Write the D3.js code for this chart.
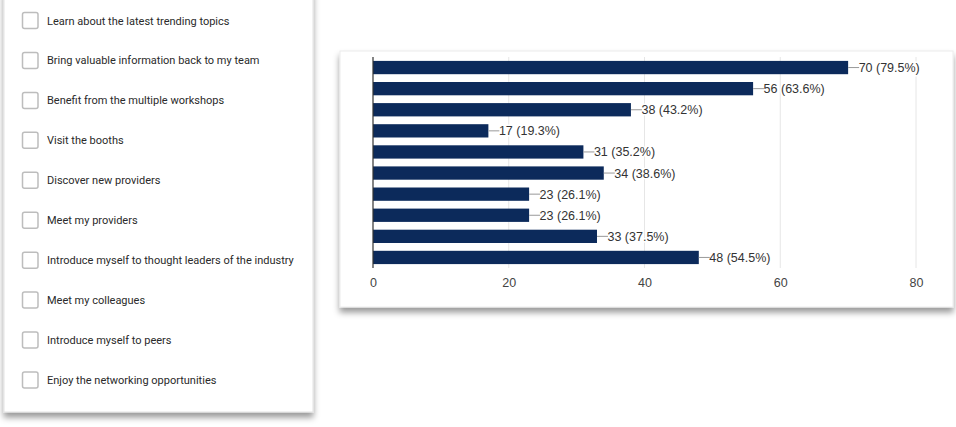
<!DOCTYPE html>
<html>
<head>
<meta charset="utf-8">
<script src="https://cdn.jsdelivr.net/npm/d3@7"></script>
<style>
  body { margin: 0; background: #fff; }
  svg { display: block; }
</style>
</head>
<body>
<svg id="chart" width="956" height="427"></svg>
<script>
// answer options, in the order of the form
var options = [
  "Learn about the latest trending topics",
  "Bring valuable information back to my team",
  "Benefit from the multiple workshops",
  "Visit the booths",
  "Discover new providers",
  "Meet my providers",
  "Introduce myself to thought leaders of the industry",
  "Meet my colleagues",
  "Introduce myself to peers",
  "Enjoy the networking opportunities"
];
// responses per option
var counts = [70, 56, 38, 17, 31, 34, 23, 23, 33, 48];
var percents = ["79.5%", "63.6%", "43.2%", "19.3%", "35.2%", "38.6%", "26.1%", "26.1%", "37.5%", "54.5%"];
var xTicks = [0, 20, 40, 60, 80];

var svg = d3.select("#chart");

// shadow filter for the two cards
var defs = svg.append("defs");
var f = defs.append("filter").attr("id", "shadow")
    .attr("x", "-5%").attr("y", "-5%").attr("width", "110%").attr("height", "115%");
f.append("feDropShadow")
    .attr("dx", 0).attr("dy", 5).attr("stdDeviation", 3)
    .attr("flood-color", "#000").attr("flood-opacity", 0.4);

// ---- left card: checkbox list ----
var left = svg.append("g");
left.append("rect")
    .attr("x", 4).attr("y", -10).attr("width", 309).attr("height", 422)
    .attr("fill", "#fff").attr("stroke", "#e3e3e3")
    .attr("filter", "url(#shadow)");

var rowY = d3.scalePoint().domain(d3.range(options.length)).range([20.5, 380]);

var items = left.selectAll("g.item")
    .data(options)
    .enter().append("g")
    .attr("class", "item")
    .attr("transform", function(d, i){ return "translate(0," + rowY(i) + ")"; });

items.append("rect")
    .attr("x", 22.5).attr("y", -8).attr("width", 15.5).attr("height", 16)
    .attr("rx", 2)
    .attr("fill", "#fff").attr("stroke", "#bdbdbd").attr("stroke-width", 1.5);

items.append("text")
    .attr("x", 47).attr("y", 0.5)
    .attr("dominant-baseline", "central")
    .style("font-family", "Roboto, sans-serif").style("font-size", "11px")
    .attr("fill", "#2a2a2a")
    .text(function(d){ return d; });

// ---- right card: bar chart ----
var card = svg.append("g");
card.append("rect")
    .attr("x", 340).attr("y", 51).attr("width", 613).attr("height", 256)
    .attr("fill", "#fff").attr("stroke", "#ececec")
    .attr("filter", "url(#shadow)");

var x = d3.scaleLinear().domain([0, 80]).range([373, 916]);
var y = d3.scaleBand().domain(d3.range(counts.length))
    .range([57, 268]).paddingInner(0.37).paddingOuter(0.185);

// gridlines
card.selectAll("line.grid")
    .data(xTicks.slice(1))
    .enter().append("line")
    .attr("x1", function(d){ return x(d); }).attr("x2", function(d){ return x(d); })
    .attr("y1", 57).attr("y2", 268)
    .attr("stroke", "#e6e6e6");

// bars
card.selectAll("rect.bar")
    .data(counts)
    .enter().append("rect")
    .attr("class", "bar")
    .attr("x", x(0))
    .attr("y", function(d, i){ return y(i); })
    .attr("width", function(d){ return x(d) - x(0); })
    .attr("height", y.bandwidth())
    .attr("fill", "#0c2a5b");

// value labels with leader lines
var lab = card.selectAll("g.lab")
    .data(counts)
    .enter().append("g")
    .attr("transform", function(d, i){ return "translate(" + x(d) + "," + (y(i) + y.bandwidth() / 2) + ")"; });

lab.append("text")
    .attr("x", 10.5).attr("y", 0.5)
    .attr("dominant-baseline", "central")
    .style("font-family", "'Liberation Sans', Arial, sans-serif").style("font-size", "12.5px")
    .attr("fill", "#333")
    .attr("stroke", "#fff").attr("stroke-width", 3).attr("paint-order", "stroke")
    .text(function(d, i){ return d + " (" + percents[i] + ")"; });

lab.append("line")
    .attr("x1", 0).attr("x2", 11).attr("y1", 0).attr("y2", 0)
    .attr("stroke", "#999");

// vertical base axis
card.append("line")
    .attr("x1", x(0)).attr("x2", x(0)).attr("y1", 57).attr("y2", 268)
    .attr("stroke", "#333").attr("stroke-width", 1.2);

// x axis tick labels
var xAxis = d3.axisBottom(x).tickValues(xTicks).tickSize(0).tickPadding(9);
var ax = card.append("g").attr("transform", "translate(0,269)").call(xAxis);
ax.select(".domain").remove();
ax.selectAll("text")
    .style("font-family", "'Liberation Sans', Arial, sans-serif").style("font-size", "12.5px")
    .attr("fill", "#444");
</script>
</body>
</html>
